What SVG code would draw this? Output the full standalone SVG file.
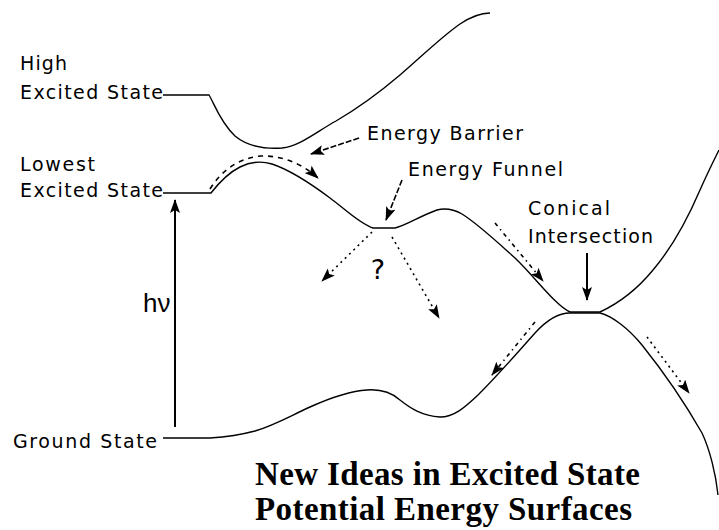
<svg xmlns="http://www.w3.org/2000/svg" width="719" height="530" viewBox="0 0 719 530">
<defs>
<style>
.lbl{font-family:"DejaVu Sans","Liberation Sans",sans-serif;font-size:19px;fill:#000}
.q{font-family:"DejaVu Sans","Liberation Sans",sans-serif;font-size:27px;fill:#000}
.title{font-family:"Liberation Serif","Times New Roman",serif;font-weight:bold;font-size:33px;fill:#000}
.curve{fill:none;stroke:#000;stroke-width:1.4}
.solid{fill:none;stroke:#000;stroke-width:2}
.dash{fill:none;stroke:#000;stroke-width:1.6;stroke-dasharray:6 2}
.dashdot{fill:none;stroke:#000;stroke-width:1.6;stroke-dasharray:4 4 1.5 4}
.dot{fill:none;stroke:#000;stroke-width:1.6;stroke-dasharray:2 4}
.arc{fill:none;stroke:#000;stroke-width:1.6;stroke-dasharray:5 5}
</style>
<marker id="ah" viewBox="0 0 14 10" refX="13" refY="5" markerWidth="14" markerHeight="10" orient="auto" markerUnits="userSpaceOnUse">
<path d="M0,0 L14,5 L0,10 L3,5 z" fill="#000"/>
</marker>
</defs>
<rect width="719" height="530" fill="#fff"/>

<g id="surfaces">
<path id="high-surface" class="curve" d="M163,95 L209,95 C214,103 220,122 235,136 C248,147 265,149 282,148 C300,146 316,132 336,121 C360,107 380,92 400,75 C420,58 440,38 460,24 C472,16 480,13 490,13"/>
<path id="lowest-surface" class="curve" d="M163,193 L211,193 C218,184 228,173 240,167 C250,162 262,161 272,164 C290,170 310,183 330,198 C345,209 360,224 373,228 L395,228 C405,226 420,216 437,210 C445,208 453,209 462,214 C478,224 495,240 515,258 C535,277 555,305 570,312 L600,312 C615,305 635,292 653,270 C670,250 685,225 700,190 C708,172 714,160 719,150"/>
<path id="ground-surface" class="curve" d="M163,438 L210,438 C225,437 240,435 255,431 C275,425 290,416 310,407 C330,398 350,391 367,390 C380,389 392,393 400,400 C410,408 422,416 440,417 C455,417 466,406 478,395 C495,378 520,350 535,333 C545,322 558,313 570,313 L600,313 C612,316 628,328 642,345 C662,370 686,405 702,433 C710,450 716,475 718,495"/>
</g>

<g id="connectors">
<line id="hv-arrow" class="solid" x1="175" y1="427" x2="175" y2="200" marker-end="url(#ah)"/>
<line id="barrier-arrow" class="dash" x1="359" y1="138" x2="311" y2="154" marker-end="url(#ah)"/>
<path id="barrier-arc" class="arc" d="M210,189 Q228,160 260,156 Q292,155 318,178" marker-end="url(#ah)"/>
<line id="funnel-arrow" class="dash" x1="402" y1="180" x2="386" y2="220" marker-end="url(#ah)"/>
<line id="funnel-left" class="dot" x1="372" y1="232" x2="322" y2="281" marker-end="url(#ah)"/>
<line id="funnel-right" class="dot" x1="392" y1="237" x2="439" y2="318" marker-end="url(#ah)"/>
<line id="to-ci" class="dashdot" x1="495" y1="223" x2="543" y2="281" marker-end="url(#ah)"/>
<line id="ci-arrow" class="solid" x1="587" y1="253" x2="587" y2="300" marker-end="url(#ah)"/>
<line id="ci-left" class="dashdot" x1="535" y1="322" x2="492" y2="375" marker-end="url(#ah)"/>
<line id="ci-right" class="dot" x1="647" y1="337" x2="689" y2="393" marker-end="url(#ah)"/>
</g>

<g id="high-excited-state">
<text class="lbl" x="20" y="70" textLength="47" lengthAdjust="spacing">High</text>
<text class="lbl" x="20" y="99" textLength="143" lengthAdjust="spacing">Excited State</text>
</g>
<g id="lowest-excited-state">
<text class="lbl" x="20" y="171" textLength="75" lengthAdjust="spacing">Lowest</text>
<text class="lbl" x="20" y="197" textLength="143" lengthAdjust="spacing">Excited State</text>
</g>
<g id="ground-state">
<text class="lbl" x="13" y="448" textLength="144" lengthAdjust="spacing">Ground State</text>
</g>
<g id="hv-label">
<text x="143" y="312" font-family="Liberation Sans, Arial, sans-serif" font-size="26" fill="#000">hν</text>
</g>
<g id="energy-barrier">
<text class="lbl" x="367" y="140" textLength="156" lengthAdjust="spacing">Energy Barrier</text>
</g>
<g id="energy-funnel">
<text class="lbl" x="408" y="176" textLength="155" lengthAdjust="spacing">Energy Funnel</text>
</g>
<g id="question">
<text class="q" x="378" y="279" text-anchor="middle">?</text>
</g>
<g id="conical-intersection">
<text class="lbl" x="528" y="215" textLength="82" lengthAdjust="spacing">Conical</text>
<text class="lbl" x="528" y="243" textLength="125" lengthAdjust="spacing">Intersection</text>
</g>
<g id="title">
<text class="title" x="255" y="485" textLength="385" lengthAdjust="spacing">New Ideas in Excited State</text>
<text class="title" x="255" y="520" textLength="377" lengthAdjust="spacing">Potential Energy Surfaces</text>
</g>
</svg>
